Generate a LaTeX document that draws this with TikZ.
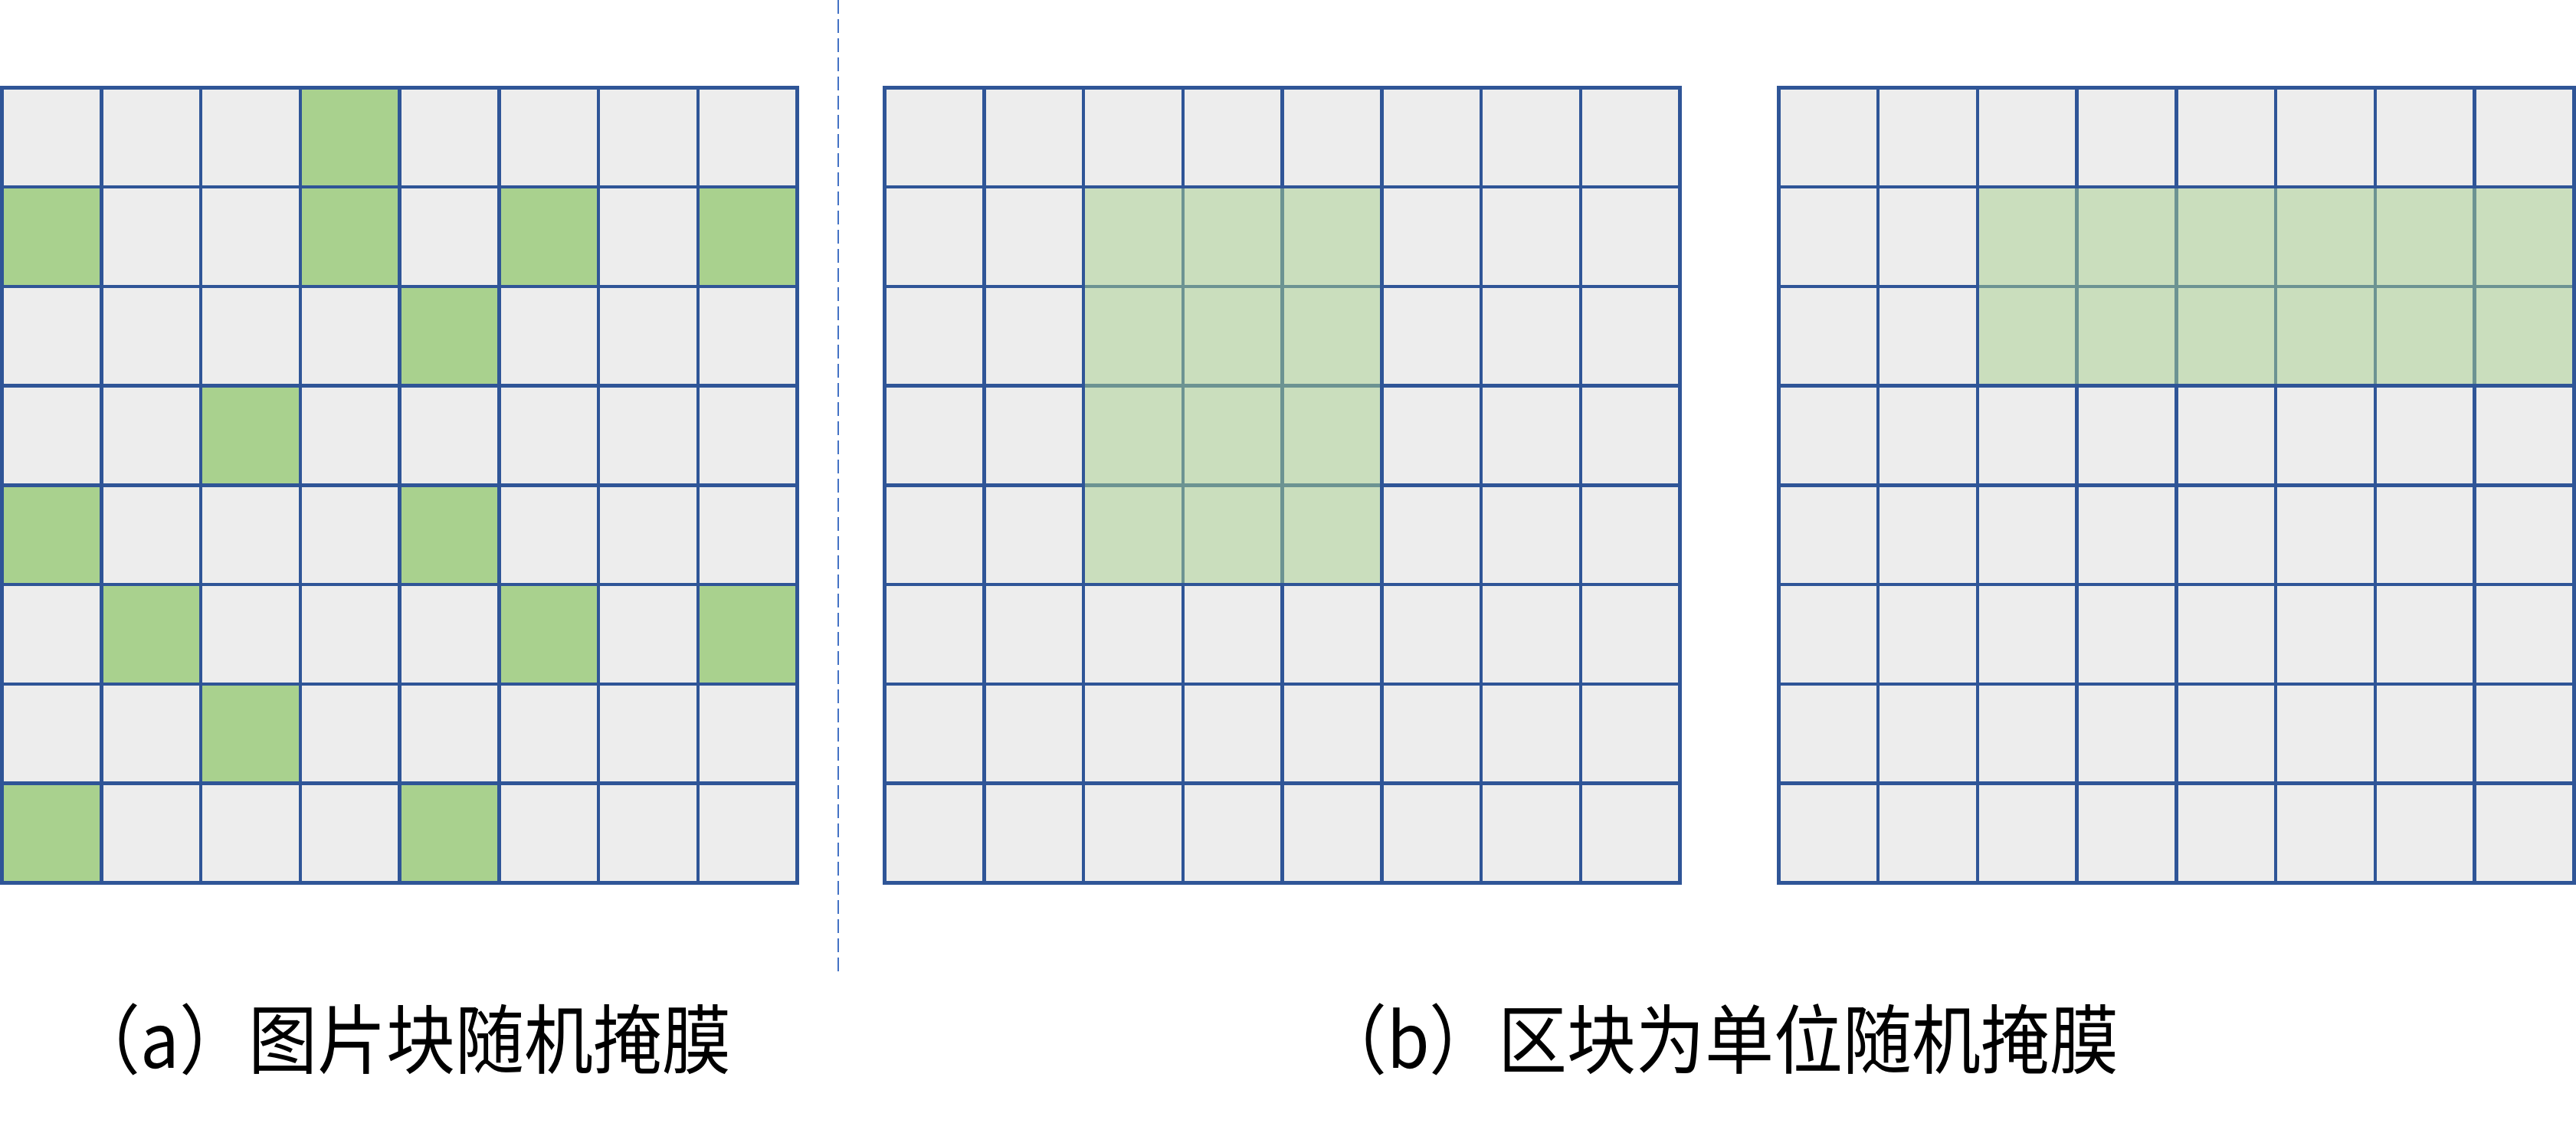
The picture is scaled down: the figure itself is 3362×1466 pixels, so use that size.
\documentclass[tikz,border=0pt]{standalone}
\usepackage{fontspec}
\newfontfamily\cjk{Noto Sans CJK SC}
\definecolor{gridline}{HTML}{2F5597}
\definecolor{cellgray}{HTML}{EDEDED}
\definecolor{maskgreen}{HTML}{A9D18E}
\definecolor{sepblue}{HTML}{4472C4}
\tikzset{
  gridstroke/.style={draw=gridline, line width=1.125pt},
  cellfill/.style={fill=cellgray},
  maskcell/.style={fill=maskgreen},
  maskblock/.style={fill=maskgreen, fill opacity=0.5},
  sepline/.style={draw=sepblue, line width=0.5pt, dash pattern=on 4.5pt off 1.75pt},
  caption/.style={inner sep=0pt, font=\cjk\fontsize{22.5pt}{27pt}\selectfont, text=black}
}
\newcommand{\pitch}{129.75}
\newcommand{\gtop}{114.3}
\newcommand{\gridcells}[1]{%
  \fill[cellfill] (#1,\gtop) rectangle ++(1038,1038);
}
\newcommand{\gridlines}[1]{%
  \foreach \i in {1,...,7} {
    \draw[gridstroke] ({#1+\i*\pitch},\gtop) -- ++(0,1038);
    \draw[gridstroke] (#1,{\gtop+\i*\pitch}) -- ++(1038,0);
  }
  \draw[gridstroke] (#1,\gtop) rectangle ++(1038,1038);
}
\begin{document}
\begin{tikzpicture}[x=0.25pt,y=-0.25pt]
\useasboundingbox (0,0) rectangle (3362,1466);
% left grid: random patches
\gridcells{2.5}
\foreach \r/\c in {0/3,1/0,1/3,1/5,1/7,2/4,3/2,4/0,4/4,5/1,5/5,5/7,6/2,7/0,7/4} {
  \fill[maskcell] ({2.5+\c*\pitch},{\gtop+\r*\pitch}) rectangle ++(\pitch,\pitch);
}
\gridlines{2.5}
% middle grid
\gridcells{1154.5}
\gridlines{1154.5}
\fill[maskblock] ({1154.5+2*\pitch+2.25},{\gtop+\pitch+2.25}) rectangle ({1154.5+5*\pitch-2.25},{\gtop+5*\pitch-2.25});
% right grid
\gridcells{2321.3}
\gridlines{2321.3}
\fill[maskblock] ({2321.3+2*\pitch+2.25},{\gtop+\pitch+2.25}) rectangle ({2321.3+8*\pitch-2.25},{\gtop+3*\pitch-2.25});
% separator
\coordinate (septop) at (1094,0);
\coordinate (sepbot) at (1094,1268);
\draw[sepline] (septop) -- (sepbot);
% captions
\node[caption] (capa) at (524,1357) {\scalebox{1}[1.1]{（a）图片块随机掩膜}};
\node[caption] (capb) at (2243,1357) {\scalebox{1}[1.1]{（b）区块为单位随机掩膜}};
\end{tikzpicture}
\end{document}
